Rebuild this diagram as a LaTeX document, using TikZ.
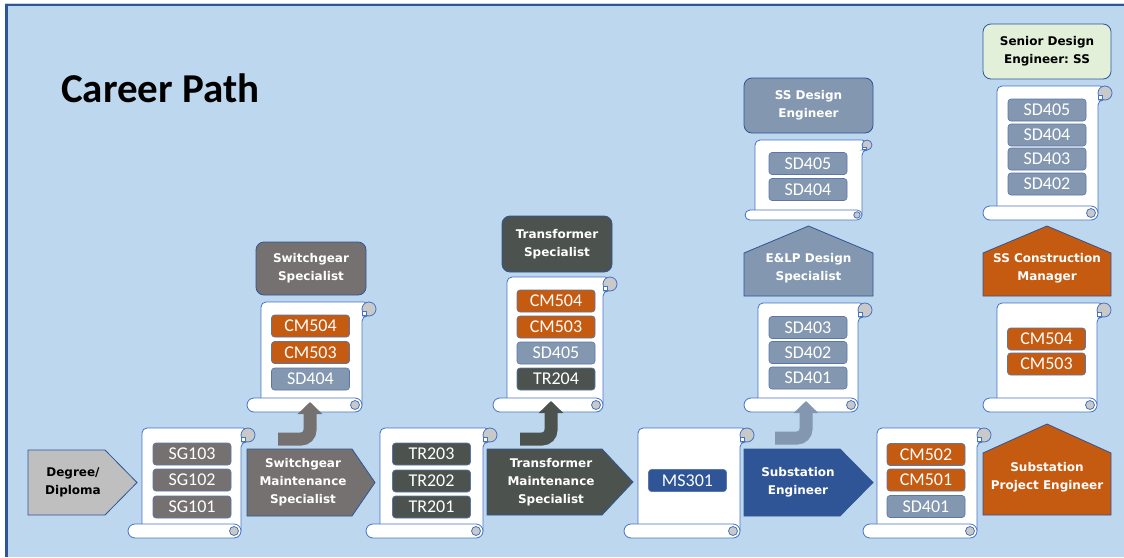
\documentclass[tikz,border=0pt]{standalone}
\usepackage{fontspec}
\setmainfont{Carlito}
\newfontfamily\lblfont{DejaVu Sans}
\usetikzlibrary{arrows.meta}

\definecolor{bgblue}{HTML}{BDD7EE}
\definecolor{frameblue}{HTML}{2F5597}
\definecolor{lineblue}{HTML}{4472C4}
\definecolor{sggray}{HTML}{767171}
\definecolor{trdark}{HTML}{4C534F}
\definecolor{cmorange}{HTML}{C55A11}
\definecolor{sdslate}{HTML}{8497B0}
\definecolor{msblue}{HTML}{2F5597}
\definecolor{degray}{HTML}{BFBFBF}
\definecolor{sengreen}{HTML}{E2F0D9}
\definecolor{curlgray}{HTML}{C9C9C9}

\tikzset{
  scrollline/.style={draw=lineblue, line width=0.8pt},
  code/.style={rounded corners=3pt, draw=frameblue!80, line width=0.6pt, minimum width=78pt,
    minimum height=22pt, inner sep=0pt, text=white, font=\fontsize{18}{20}\selectfont},
  role/.style={draw=frameblue, line width=0.8pt},
  roletext/.style={align=center, text=white, inner sep=0pt, font=\lblfont\bfseries\fontsize{12}{18}\selectfont},
  rolebox/.style={role, rounded corners=8pt, minimum width=#1, minimum height=55pt, roletext},
  bent/.style={line width=13pt, rounded corners=9pt, -{Triangle[width=24pt,length=12pt]}},
}

% scroll: name, left, top, right, bottom, roll size
\newcommand{\scrollbody}[6]{%
  \draw[scrollline, fill=white, rounded corners=5pt] ({#2+#6},{#5-#6/2}) -- ({#2+#6},{#3})
    -- ({#4-#6/2},{#3}) -- ({#4-#6/2},{#3+#6}) -- ({#4-#6},{#3+#6}) -- ({#4-#6},{#5-#6/2});
  \draw[scrollline, fill=curlgray] ({#4-#6/2},{#3+#6/2}) circle[radius={#6*0.5pt}];
  \draw[scrollline, fill=white] ({#4-#6},{#3+#6/2+2}) rectangle ({#4-#6+4},{#3+#6-1});
  \draw[scrollline, fill=white, rounded corners={#6*0.5pt}] ({#2},{#5-#6}) rectangle ({#4-#6},{#5});
  \draw[scrollline, fill=curlgray] ({#4-#6*1.5},{#5-#6/2}) circle[radius={#6*0.32pt}];
  \coordinate (#1) at ({(#2+#4)/2},{(#3+#5)/2});
}

\begin{document}
\begin{tikzpicture}[x=1pt,y=-1pt]
\useasboundingbox (0,0) rectangle (1124,557);
% frame
\fill[bgblue] (5,3) rectangle (1124,557);
\draw[frameblue, line width=2pt] (5,4.5) -- (1124,4.5);
\draw[frameblue, line width=3pt] (6.5,3.5) -- (6.5,557);
\node[anchor=base west, inner sep=0pt, font=\bfseries\fontsize{41}{45}\selectfont] (title) at (61,102) {Career Path};

% scrolls
\scrollbody{sgA}{128}{428}{255}{538}{14}
\scrollbody{sgB}{247}{302}{376}{412}{14}
\scrollbody{trA}{366}{428}{497}{538}{14}
\scrollbody{trB}{493}{277}{617}{412}{14}
\scrollbody{msA}{624}{428}{754}{538}{14}
\scrollbody{elp}{744}{303}{872}{412}{14}
\scrollbody{ssd}{745}{140}{872}{220}{10}
\scrollbody{cmA}{863}{428}{991}{538}{14}
\scrollbody{cmB}{983}{303}{1111}{412}{14}
\scrollbody{sen}{983}{86}{1112}{220}{14}

% courses
\node[code, fill=sggray] (sg103) at (192,454) {SG103};
\node[code, fill=sggray] (sg102) at (192,480) {SG102};
\node[code, fill=sggray] (sg101) at (192,507) {SG101};

\node[code, fill=cmorange] (swcm504) at (310.5,326) {CM504};
\node[code, fill=cmorange] (swcm503) at (310.5,352.5) {CM503};
\node[code, fill=sdslate] (swsd404) at (310.5,379) {SD404};

\node[code, fill=trdark] (tr203) at (431.5,454) {TR203};
\node[code, fill=trdark] (tr202) at (431.5,481) {TR202};
\node[code, fill=trdark] (tr201) at (431.5,507) {TR201};

\node[code, fill=cmorange] (trcm504) at (556,301) {CM504};
\node[code, fill=cmorange] (trcm503) at (556,327) {CM503};
\node[code, fill=sdslate] (trsd405) at (556,353) {SD405};
\node[code, fill=trdark] (tr204) at (556,379) {TR204};

\node[code, fill=msblue] (ms301) at (687.5,480.5) {MS301};

\node[code, fill=sdslate] (elsd403) at (808,327.5) {SD403};
\node[code, fill=sdslate] (elsd402) at (808,352.5) {SD402};
\node[code, fill=sdslate] (elsd401) at (808,378) {SD401};

\node[code, fill=sdslate] (sssd405) at (808,163.5) {SD405};
\node[code, fill=sdslate] (sssd404) at (808,189.5) {SD404};

\node[code, fill=cmorange] (cm502) at (926,454.5) {CM502};
\node[code, fill=cmorange] (cm501) at (926,480) {CM501};
\node[code, fill=sdslate] (cmsd401) at (926,506.5) {SD401};

\node[code, fill=cmorange] (cm504) at (1046.5,339) {CM504};
\node[code, fill=cmorange] (cm503) at (1046.5,364) {CM503};

\node[code, fill=sdslate] (snsd405) at (1047,110) {SD405};
\node[code, fill=sdslate] (snsd404) at (1047,135) {SD404};
\node[code, fill=sdslate] (snsd403) at (1047,159) {SD403};
\node[code, fill=sdslate] (snsd402) at (1047,184) {SD402};

% chevrons along the path
\draw[role, fill=degray] (28,450) -- (105,450) -- (137,482.5) -- (105,515) -- (28,515) -- cycle;
\node[roletext, text=black] (degree) at (73,482.5) {Degree/\\Diploma};
\draw[role, fill=sggray] (247,449) -- (352,449) -- (375,482.5) -- (352,516) -- (247,516) -- cycle;
\node[roletext] (swmaint) at (303,482.5) {Switchgear\\Maintenance\\Specialist};
\draw[role, fill=trdark] (487,449) -- (602,449) -- (633,482) -- (602,515) -- (487,515) -- cycle;
\node[roletext] (trmaint) at (551,482) {Transformer\\Maintenance\\Specialist};
\draw[role, fill=msblue] (744,449) -- (840,449) -- (873,482.5) -- (840,516) -- (744,516) -- cycle;
\node[roletext] (subeng) at (798,482.5) {Substation\\Engineer};

% houses
\draw[role, fill=sdslate] (744,296) -- (744,253) -- (808.5,226) -- (873,253) -- (873,296) -- cycle;
\node[roletext] (elpdes) at (808.5,268) {E\&LP Design\\Specialist};
\draw[role, fill=cmorange] (983,296) -- (983,253) -- (1047,226) -- (1111,253) -- (1111,296) -- cycle;
\node[roletext] (sscons) at (1047,268) {SS Construction\\Manager};
\draw[role, fill=cmorange] (983,515) -- (983,453) -- (1047,424) -- (1111,453) -- (1111,515) -- cycle;
\node[roletext] (subproj) at (1047,477) {Substation\\Project Engineer};

% title boxes
\node[rolebox=110pt, fill=sggray, minimum height=53pt] (swspec) at (311,268.5) {Switchgear\\Specialist};
\node[rolebox=110pt, fill=trdark, minimum height=56pt] (trspec) at (557,244) {Transformer\\Specialist};
\node[rolebox=129pt, fill=sdslate] (ssdes) at (808.5,105.5) {SS Design\\Engineer};
\node[rolebox=128pt, fill=sengreen, text=black] (sendes) at (1047,51.5) {Senior Design\\Engineer:~SS};

% promotion arrows
\coordinate (swfrom) at (278,439);
\coordinate (swup) at (310,402);
\draw[bent, draw=sggray] (swfrom) -| (swup);
\coordinate (trfrom) at (520,439);
\coordinate (trup) at (551,401);
\draw[bent, draw=trdark] (trfrom) -| (trup);
\coordinate (sefrom) at (775,438);
\coordinate (seup) at (806,401);
\draw[bent, draw=sdslate] (sefrom) -| (seup);
\end{tikzpicture}
\end{document}
